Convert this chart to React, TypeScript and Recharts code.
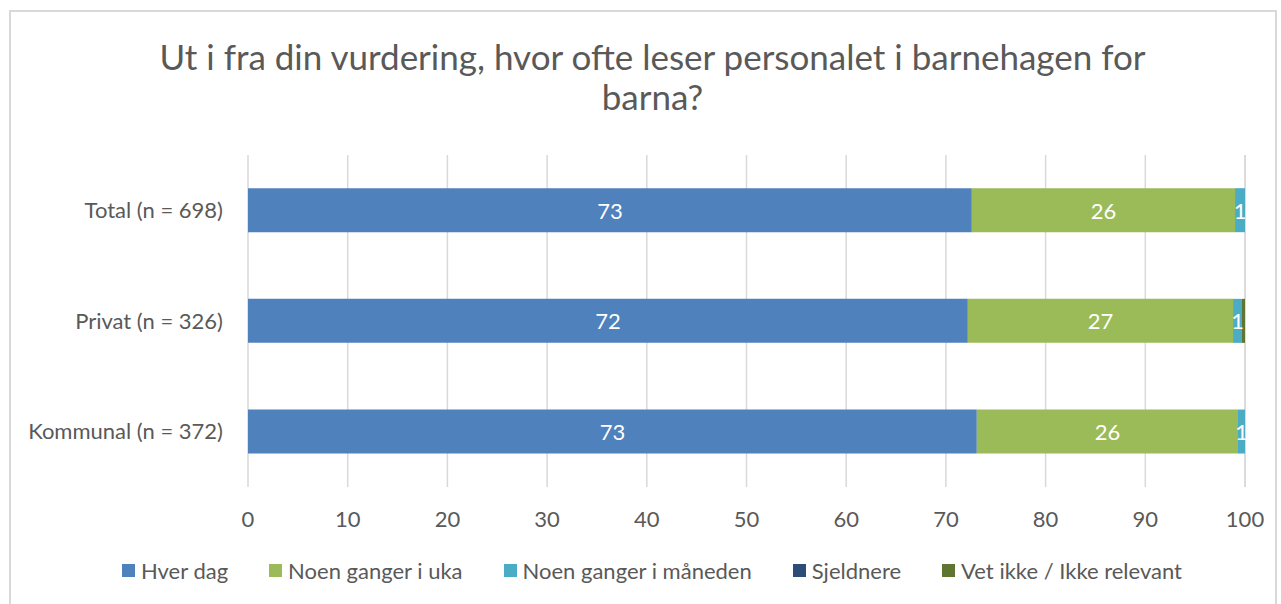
import { BarChart, Bar, XAxis, YAxis, CartesianGrid, LabelList, Legend } from 'recharts';

const categories = ['Total (n = 698)', 'Privat (n = 326)', 'Kommunal (n = 372)'];
const hverDag = [72.6, 72.2, 73.1];
const noenGangerUka = [26.4, 26.6, 26.2];
const noenGangerMaaned = [1.0, 0.9, 0.7];
const sjeldnere = [0, 0, 0];
const vetIkke = [0, 0.3, 0];
const xTicks = [0, 10, 20, 30, 40, 50, 60, 70, 80, 90, 100];

const SERIES = [
  { key: 'hverDag', name: 'Hver dag', color: '#4F81BD' },
  { key: 'uka', name: 'Noen ganger i uka', color: '#9BBB59' },
  { key: 'maaned', name: 'Noen ganger i måneden', color: '#4BACC6' },
  { key: 'sjeldnere', name: 'Sjeldnere', color: '#2C4D75' },
  { key: 'vetIkke', name: 'Vet ikke / Ikke relevant', color: '#5F7530' },
];

const data = categories.map((name, i) => ({
  name,
  hverDag: hverDag[i],
  uka: noenGangerUka[i],
  maaned: noenGangerMaaned[i],
  sjeldnere: sjeldnere[i],
  vetIkke: vetIkke[i],
}));

const FONT = "Lato, 'Open Sans', sans-serif";
const GREY = '#595959';

const renderLabel = (props: any) => {
  const { x, y, width, height, value } = props;
  const v = Math.round(Number(value));
  if (!v) return null;
  return (
    <text
      x={x + width / 2}
      y={y + height / 2}
      fill="#FFFFFF"
      fontSize={22}
      fontFamily={FONT}
      textAnchor="middle"
      dominantBaseline="central"
    >
      {v}
    </text>
  );
};

const renderLegend = () => (
  <div
    style={{
      display: 'flex',
      justifyContent: 'center',
      fontFamily: FONT,
      fontSize: 22,
      color: GREY,
      paddingLeft: 100,
    }}
  >
    {SERIES.map((s) => (
      <div key={s.key} style={{ display: 'flex', alignItems: 'center', marginRight: 41 }}>
        <span style={{ width: 13, height: 13, background: s.color, display: 'inline-block', marginRight: 6 }} />
        <span>{s.name}</span>
      </div>
    ))}
  </div>
);

export default function App() {
  return (
    <div style={{ position: 'absolute', left: 0, top: 0, width: 1281, height: 604, background: '#FFFFFF', overflow: 'hidden' }}>
      <div
        style={{
          position: 'absolute',
          left: 9,
          top: 10,
          width: 1268,
          height: 610,
          border: '2px solid #D9D9D9',
          boxSizing: 'border-box',
        }}
      />
      <div
        style={{
          position: 'absolute',
          left: 0,
          top: 36,
          width: 1281,
          textAlign: 'center',
          fontFamily: FONT,
          fontSize: 35,
          lineHeight: '40px',
          color: GREY,
          paddingLeft: 24,
          boxSizing: 'border-box',
        }}
      >
        Ut i fra din vurdering, hvor ofte leser personalet i barnehagen for
        <br />
        barna?
      </div>
      <div style={{ position: 'absolute', left: 0, top: 0 }}>
        <BarChart
          width={1281}
          height={604}
          data={data}
          layout="vertical"
          barCategoryGap="30%"
          margin={{ top: 155, right: 36, bottom: 20, left: 0 }}
        >
          <CartesianGrid horizontal={false} stroke="#D9D9D9" strokeWidth={1.5} />
          <XAxis
            type="number"
            domain={[0, 100]}
            ticks={xTicks}
            axisLine={false}
            tickLine={false}
            tickMargin={18}
            height={70}
            tick={{ fill: GREY, fontSize: 22, fontFamily: FONT }}
          />
          <YAxis
            type="category"
            dataKey="name"
            width={248}
            axisLine={false}
            tickLine={false}
            tickSize={0}
            tickMargin={25}
            tick={{ fill: GREY, fontSize: 22, fontFamily: FONT }}
          />
          <Legend verticalAlign="bottom" content={renderLegend} />
          {SERIES.map((s) => (
            <Bar key={s.key} dataKey={s.key} name={s.name} stackId="a" fill={s.color} isAnimationActive={false}>
              <LabelList dataKey={s.key} content={renderLabel} />
            </Bar>
          ))}
        </BarChart>
      </div>
    </div>
  );
}
